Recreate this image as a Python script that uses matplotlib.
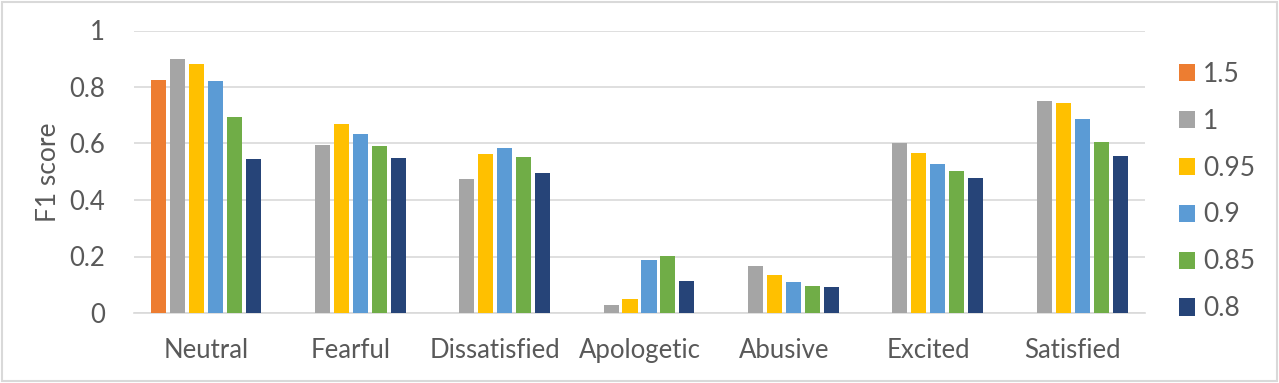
import numpy as np
import matplotlib.pyplot as plt

plt.rcParams['font.family'] = ['Lato', 'DejaVu Sans']

categories = ['Neutral', 'Fearful', 'Dissatisfied', 'Apologetic', 'Abusive', 'Excited', 'Satisfied']
series_names = ['1.5', '1', '0.95', '0.9', '0.85', '0.8']
s_15 = [0.824, np.nan, np.nan, np.nan, np.nan, np.nan, np.nan]
s_1 = [0.898, 0.594, 0.473, 0.028, 0.165, 0.601, 0.749]
s_095 = [0.880, 0.668, 0.562, 0.048, 0.133, 0.565, 0.742]
s_09 = [0.820, 0.633, 0.583, 0.188, 0.109, 0.526, 0.687]
s_085 = [0.693, 0.590, 0.551, 0.202, 0.096, 0.501, 0.604]
s_08 = [0.544, 0.548, 0.494, 0.112, 0.092, 0.477, 0.556]
colors = ['#ED7D31', '#A5A5A5', '#FFC000', '#5B9BD5', '#70AD47', '#264478']

all_series = [s_15, s_1, s_095, s_09, s_085, s_08]
text_col = '#595959'

fig = plt.figure(figsize=(12.79, 3.83), dpi=100)
ax = fig.add_axes([134 / 1279, 1 - 313 / 383, (1145 - 134) / 1279, (313 - 30.5) / 383])

x = np.arange(len(categories))
slot = 0.1315
width = 0.104
for i, (vals, c, name) in enumerate(zip(all_series, colors, series_names)):
    offs = (i - 2.5) * slot
    ax.bar(x + offs, vals, width=width, color=c, label=name, zorder=3)

ax.set_xlim(-0.5, len(categories) - 0.5)
ax.set_ylim(0, 1)
ax.set_yticks(np.arange(0, 1.01, 0.2))
ax.set_yticklabels(['0', '0.2', '0.4', '0.6', '0.8', '1'])
ax.set_xticks(x)
ax.set_xticklabels(categories)
ax.grid(axis='y', color='#D9D9D9', linewidth=1.2, zorder=0)
for s in ['top', 'right', 'left']:
    ax.spines[s].set_visible(False)
ax.spines['bottom'].set_color('#D9D9D9')
ax.spines['bottom'].set_linewidth(1.2)
ax.tick_params(axis='both', length=0, labelsize=18.5, colors=text_col)
ax.tick_params(axis='y', pad=21)
ax.tick_params(axis='x', pad=18)
ax.set_ylabel('F1 score', fontsize=19, color=text_col, labelpad=6)

fig.legend(loc='center left', bbox_to_anchor=(1179 / 1279, 0.5), frameon=False,
           fontsize=19, labelcolor=text_col, handlelength=0.62, handleheight=0.62,
           handletextpad=0.3, labelspacing=0.83, borderpad=0, borderaxespad=0)

fig.patches.append(plt.Rectangle((2 / 1279, 2 / 383), 1 - 4 / 1279, 1 - 4 / 383,
                                 transform=fig.transFigure, fill=False,
                                 edgecolor='#D9D9D9', linewidth=1.5))

fig.savefig('out.png', dpi=100)
